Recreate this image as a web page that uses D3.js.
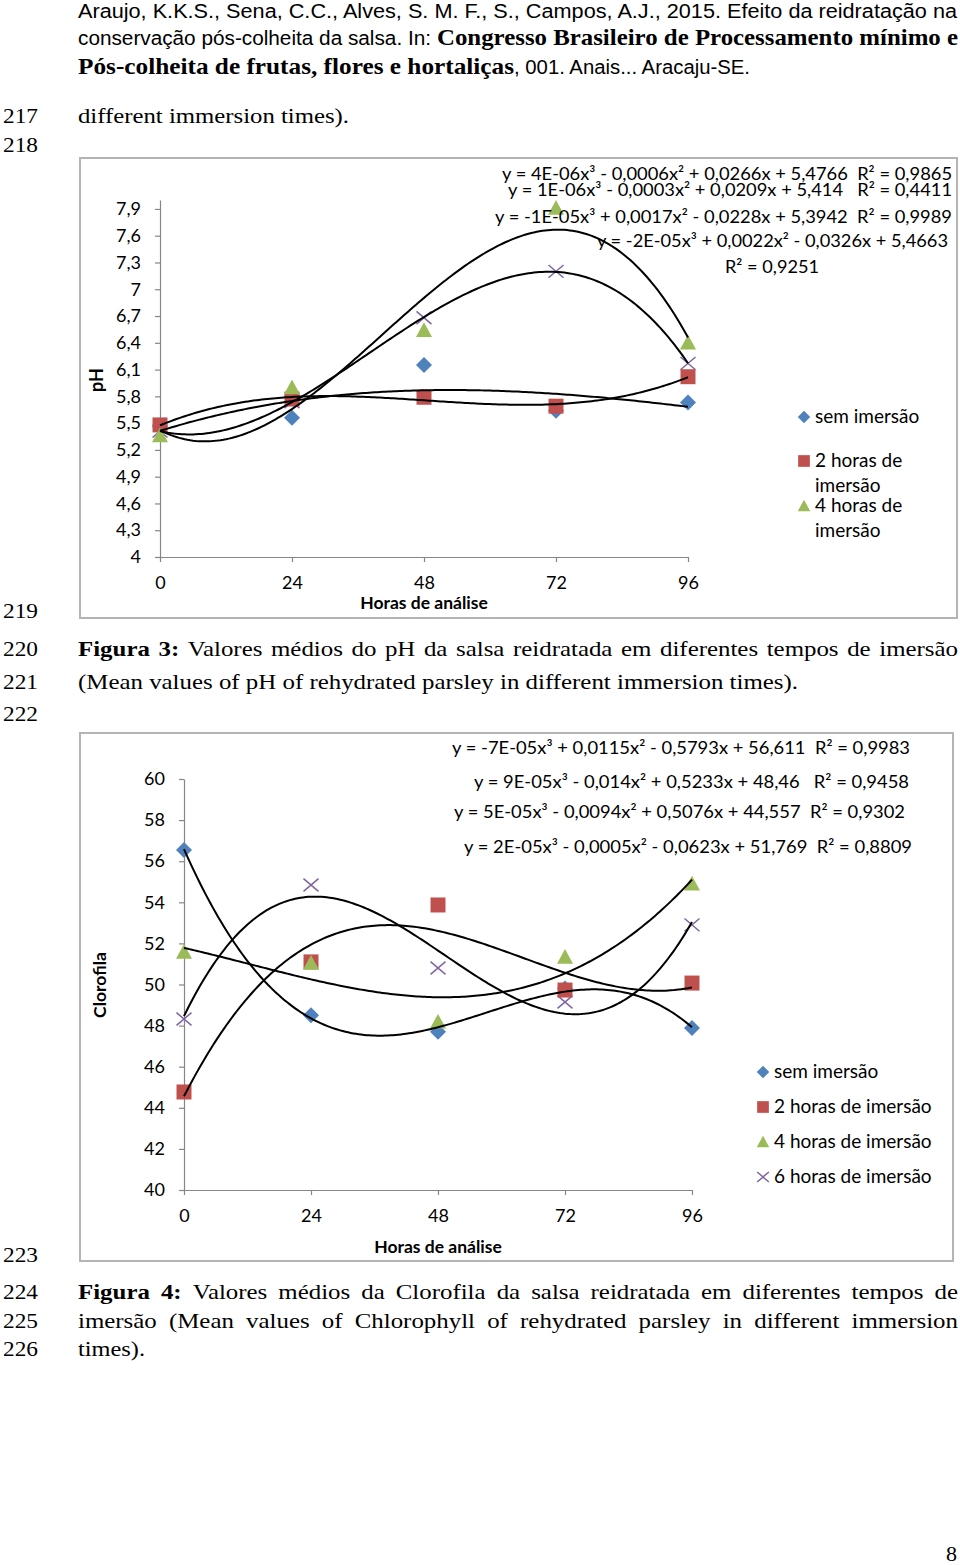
<!DOCTYPE html>
<html><head><meta charset="utf-8">
<script src="https://cdn.jsdelivr.net/npm/d3@7"></script>
<style>body{margin:0;background:#fff}svg{display:block}text{white-space:pre}</style>
</head><body>
<svg id="page" width="960" height="1565"></svg>
<script>
// ---------------- DATA ----------------
const hours = [0, 24, 48, 72, 96];
const seriesNames = ["sem imersão", "2 horas de imersão", "4 horas de imersão", "6 horas de imersão"];
const seriesColors = ["#4F81BD", "#C0504D", "#9BBB59", "#8064A2"];

// Figura 3 - pH
const phSem = [5.46, 5.56, 6.15, 5.64, 5.73];
const ph2h  = [5.48, 5.77, 5.79, 5.69, 6.02];
const ph4h  = [5.36, 5.90, 6.54, 7.91, 6.40];
const ph6h  = [5.41, 5.74, 6.68, 7.20, 6.17];
const phTicks = [4, 4.3, 4.6, 4.9, 5.2, 5.5, 5.8, 6.1, 6.4, 6.7, 7, 7.3, 7.6, 7.9];
const phDomain = [4, 8];
const phEquations = [
  "y = 4E-06x³ - 0,0006x² + 0,0266x + 5,4766  R² = 0,9865",
  "y = 1E-06x³ - 0,0003x² + 0,0209x + 5,414   R² = 0,4411",
  "y = -1E-05x³ + 0,0017x² - 0,0228x + 5,3942  R² = 0,9989",
  "y = -2E-05x³ + 0,0022x² - 0,0326x + 5,4663",
  "R² = 0,9251"
];
const phLegend = [["sem imersão"], ["2 horas de", "imersão"], ["4 horas de", "imersão"]];

// Figura 4 - Clorofila
const clSem = [56.55, 48.5, 47.7, 49.8, 47.88];
const cl2h  = [44.77, 51.1, 53.87, 49.73, 50.07];
const cl4h  = [51.58, 51.05, 48.18, 51.34, 54.9];
const cl6h  = [48.32, 54.84, 50.8, 49.15, 52.9];
const clTicks = [40, 42, 44, 46, 48, 50, 52, 54, 56, 58, 60];
const clDomain = [40, 60];
const clEquations = [
  "y = -7E-05x³ + 0,0115x² - 0,5793x + 56,611  R² = 0,9983",
  "y = 9E-05x³ - 0,014x² + 0,5233x + 48,46   R² = 0,9458",
  "y = 5E-05x³ - 0,0094x² + 0,5076x + 44,557  R² = 0,9302",
  "y = 2E-05x³ - 0,0005x² - 0,0623x + 51,769  R² = 0,8809"
];

// ---------------- PAGE ----------------
const SERIF = "'Liberation Serif','Times New Roman',serif";
const NARROW = "'Liberation Sans Narrow','Arial Narrow','Liberation Sans',Arial,sans-serif";
const CHART = "Lato,'Open Sans',sans-serif";

const svg = d3.select("#page");
svg.append("rect").attr("width", 960).attr("height", 1565).attr("fill", "#fff");

function txt(x, y, s, font, size, weight, width) {
  const t = svg.append("text").attr("x", x).attr("y", y)
    .attr("font-family", font).attr("font-size", size)
    .attr("font-weight", weight || "normal").attr("fill", "#000").text(s);
  if (width) t.attr("textLength", width).attr("lengthAdjust", "spacingAndGlyphs");
  return t;
}

// header
txt(78, 18, "Araujo, K.K.S., Sena, C.C., Alves, S. M. F., S., Campos, A.J., 2015. Efeito da reidratação na", NARROW, 20, "normal", 879);
txt(78, 45, "conservação pós-colheita da salsa. In:", NARROW, 20, "normal", 353);
txt(437, 45, "Congresso Brasileiro de Processamento mínimo e", SERIF, 24, "bold", 521);
txt(78, 74, "Pós-colheita de frutas, flores e hortaliças", SERIF, 24, "bold", 436);
txt(514, 74, ", 001. Anais... Aracaju-SE.", NARROW, 20, "normal", 236);

// horizontal stretch of the serif body text, measured on a left-aligned line
const probe = txt(78, 689, "(Mean values of pH of rehydrated parsley in different immersion times).", SERIF, 22, "normal");
const serifFactor = 720 / probe.node().getComputedTextLength();
probe.attr("textLength", 720).attr("lengthAdjust", "spacingAndGlyphs");

function justify(parts, x0, x1, y, size) {
  const words = [];
  parts.forEach(p => p.t.split(" ").filter(w => w).forEach(w => words.push({ w, bold: p.bold })));
  const nodes = words.map(o => svg.append("text").attr("y", y).attr("font-family", SERIF)
    .attr("font-size", size).attr("font-weight", o.bold ? "bold" : "normal").attr("fill", "#000").text(o.w));
  let widths = nodes.map(n => n.node().getComputedTextLength() * serifFactor);
  const W = x1 - x0, minGap = size * 0.2;
  let total = d3.sum(widths);
  if (W - total < minGap * (words.length - 1)) {
    const c = (W - minGap * (words.length - 1)) / total;
    widths = widths.map(w => w * c);
    total = d3.sum(widths);
  }
  nodes.forEach((n, i) => n.attr("textLength", widths[i]).attr("lengthAdjust", "spacingAndGlyphs"));
  const gap = (W - total) / (words.length - 1);
  let x = x0;
  nodes.forEach((n, i) => { n.attr("x", x); x += widths[i] + gap; });
}

// line numbers
const lineNums = [["217", 123], ["218", 152], ["219", 618], ["220", 656], ["221", 689], ["222", 721],
                  ["223", 1262], ["224", 1299], ["225", 1328], ["226", 1356]];
lineNums.forEach(([s, y]) => txt(3, y, s, SERIF, 22, "normal", 35));

txt(78, 123, "different immersion times).", SERIF, 22, "normal", 271);
justify([{ t: "Figura 3:", bold: true }, { t: "Valores médios do pH da salsa reidratada em diferentes tempos de imersão", bold: false }], 78, 958, 656, 22);
justify([{ t: "Figura 4:", bold: true }, { t: "Valores médios da Clorofila da salsa reidratada em diferentes tempos de", bold: false }], 78, 958, 1299, 22);
justify([{ t: "imersão (Mean values of Chlorophyll of rehydrated parsley in different immersion", bold: false }], 78, 958, 1328, 22);
txt(78, 1356, "times).", SERIF, 22, "normal", 67);
txt(946, 1561, "8", SERIF, 22, "normal");

// ---------------- CHART HELPERS ----------------
function cubicFit(xs, ys) {
  const s = 96;
  const M = [0, 1, 2, 3].map(() => [0, 0, 0, 0, 0]);
  xs.forEach((x, k) => {
    const t = x / s, p = [1, t, t * t, t * t * t];
    for (let i = 0; i < 4; i++) { for (let j = 0; j < 4; j++) M[i][j] += p[i] * p[j]; M[i][4] += p[i] * ys[k]; }
  });
  for (let i = 0; i < 4; i++) {
    let piv = i;
    for (let r = i + 1; r < 4; r++) if (Math.abs(M[r][i]) > Math.abs(M[piv][i])) piv = r;
    [M[i], M[piv]] = [M[piv], M[i]];
    for (let r = 0; r < 4; r++) {
      if (r === i) continue;
      const f = M[r][i] / M[i][i];
      for (let c = i; c < 5; c++) M[r][c] -= f * M[i][c];
    }
  }
  const co = M.map((row, i) => row[4] / row[i]);
  return x => { const t = x / s; return co[0] + co[1] * t + co[2] * t * t + co[3] * t * t * t; };
}

const symDiamond = { draw(ctx, size) { const r = Math.sqrt(size) / 2; ctx.moveTo(0, -r); ctx.lineTo(r, 0); ctx.lineTo(0, r); ctx.lineTo(-r, 0); ctx.closePath(); } };
const symSquare = { draw(ctx, size) { const s = Math.sqrt(size); ctx.rect(-s / 2, -s / 2, s, s); } };
const symTriangle = { draw(ctx, size) { const s = Math.sqrt(size); ctx.moveTo(0, -s * 0.5); ctx.lineTo(s / 2, s * 0.42); ctx.lineTo(-s / 2, s * 0.42); ctx.closePath(); } };
const symX = { draw(ctx, size) { const r = Math.sqrt(size) / 2; ctx.moveTo(-r, -r * 0.85); ctx.lineTo(r, r * 0.85); ctx.moveTo(r, -r * 0.85); ctx.lineTo(-r, r * 0.85); } };
const symTypes = [symDiamond, symSquare, symTriangle, symX];
const markerSizes = [16, 15, 16, 15];

function drawMarker(g, i, x, y, scale) {
  const sz = markerSizes[i] * (scale || 1);
  const p = g.append("path").attr("transform", `translate(${x},${y})`)
    .attr("d", d3.symbol().type(symTypes[i]).size(sz * sz)());
  if (i === 3) p.attr("fill", "none").attr("stroke", seriesColors[i]).attr("stroke-width", 1.5);
  else p.attr("fill", seriesColors[i]);
}

const fmtComma = d => String(Math.round(d * 10) / 10).replace(".", ",");

function drawChart(cfg) {
  const g = svg.append("g");
  g.append("rect").attr("x", cfg.box[0]).attr("y", cfg.box[1])
    .attr("width", cfg.box[2] - cfg.box[0]).attr("height", cfg.box[3] - cfg.box[1])
    .attr("fill", "#fff").attr("stroke", "#b4b4b4").attr("stroke-width", 2);

  const x = d3.scaleLinear().domain([0, 96]).range(cfg.xRange);
  const y = d3.scaleLinear().domain(cfg.yDomain).range(cfg.yRange);

  const ya = g.append("g").attr("transform", `translate(${cfg.xRange[0]},0)`)
    .call(d3.axisLeft(y).tickValues(cfg.yTicks).tickFormat(fmtComma).tickSize(5).tickSizeOuter(0).tickPadding(14));
  const xa = g.append("g").attr("transform", `translate(0,${cfg.yRange[0]})`)
    .call(d3.axisBottom(x).tickValues(hours).tickFormat(d3.format("d")).tickSize(5).tickSizeOuter(0).tickPadding(14));
  [ya, xa].forEach(a => {
    a.select(".domain").attr("stroke", "#868686").attr("stroke-width", 1.2);
    a.selectAll(".tick line").attr("stroke", "#868686").attr("stroke-width", 1.2);
    a.selectAll(".tick text").attr("font-family", CHART).attr("font-size", 18).attr("fill", "#000");
  });

  g.append("text").attr("x", cfg.xTitle[0]).attr("y", cfg.xTitle[1]).attr("text-anchor", "middle")
    .attr("font-family", CHART).attr("font-weight", "bold").attr("font-size", 17.5).text("Horas de análise");
  g.append("text").attr("transform", `translate(${cfg.yTitle[0]},${cfg.yTitle[1]}) rotate(-90)`)
    .attr("text-anchor", "middle").attr("font-family", CHART).attr("font-weight", "bold")
    .attr("font-size", cfg.yTitle[3]).text(cfg.yTitle[2]);

  const markG = g.append("g");
  cfg.order.forEach(i => {
    cfg.series[i].forEach((v, k) => drawMarker(markG, i, x(hours[k]), y(v)));
  });

  // polynomial (order 3) trendlines fitted to each series
  const samples = d3.range(0, 96.001, 0.5);
  cfg.series.forEach(vals => {
    const f = cubicFit(hours, vals);
    g.append("path").datum(samples)
      .attr("d", d3.line().x(d => x(d)).y(d => y(f(d))))
      .attr("fill", "none").attr("stroke", "#000").attr("stroke-width", 2);
  });

  cfg.equations.forEach((s, i) => {
    const e = cfg.eqPos[i];
    g.append("text").attr("x", e[0]).attr("y", e[2]).attr("font-family", CHART).attr("font-size", 17.5)
      .attr("textLength", e[1] - e[0]).attr("lengthAdjust", "spacingAndGlyphs").text(s);
  });

  cfg.legend.forEach((lines, i) => {
    const L = cfg.legendPos[i];
    drawMarker(g, i, L[0], L[1], 0.78);
    lines.forEach((ln, j) => {
      g.append("text").attr("x", L[0] + 11).attr("y", L[1] + 6 + j * 25)
        .attr("font-family", CHART).attr("font-size", 19).text(ln);
    });
  });
}

drawChart({
  box: [80, 158, 957, 618],
  xRange: [160, 688], yDomain: phDomain, yRange: [557, 200], yTicks: phTicks,
  xTitle: [424, 609], yTitle: [103, 380, "pH", 18],
  series: [phSem, ph2h, ph4h, ph6h], order: [3, 0, 1, 2],
  equations: phEquations,
  eqPos: [[502, 952, 180], [508, 952, 196], [495, 952, 223], [597, 948, 247], [725, 819, 273]],
  legend: phLegend,
  legendPos: [[804, 417], [804, 461], [804, 506]]
});

drawChart({
  box: [80, 733, 953, 1261],
  xRange: [184, 692], yDomain: clDomain, yRange: [1190, 779], yTicks: clTicks,
  xTitle: [438, 1253], yTitle: [106, 985, "Clorofila", 17.5],
  series: [clSem, cl2h, cl4h, cl6h], order: [3, 0, 1, 2],
  equations: clEquations,
  eqPos: [[452, 910, 754], [474, 909, 788], [454, 905, 818], [464, 912, 853]],
  legend: seriesNames.map(s => [s]),
  legendPos: [[763, 1072], [763, 1107], [763, 1142], [763, 1177]]
});
</script>
</body></html>
